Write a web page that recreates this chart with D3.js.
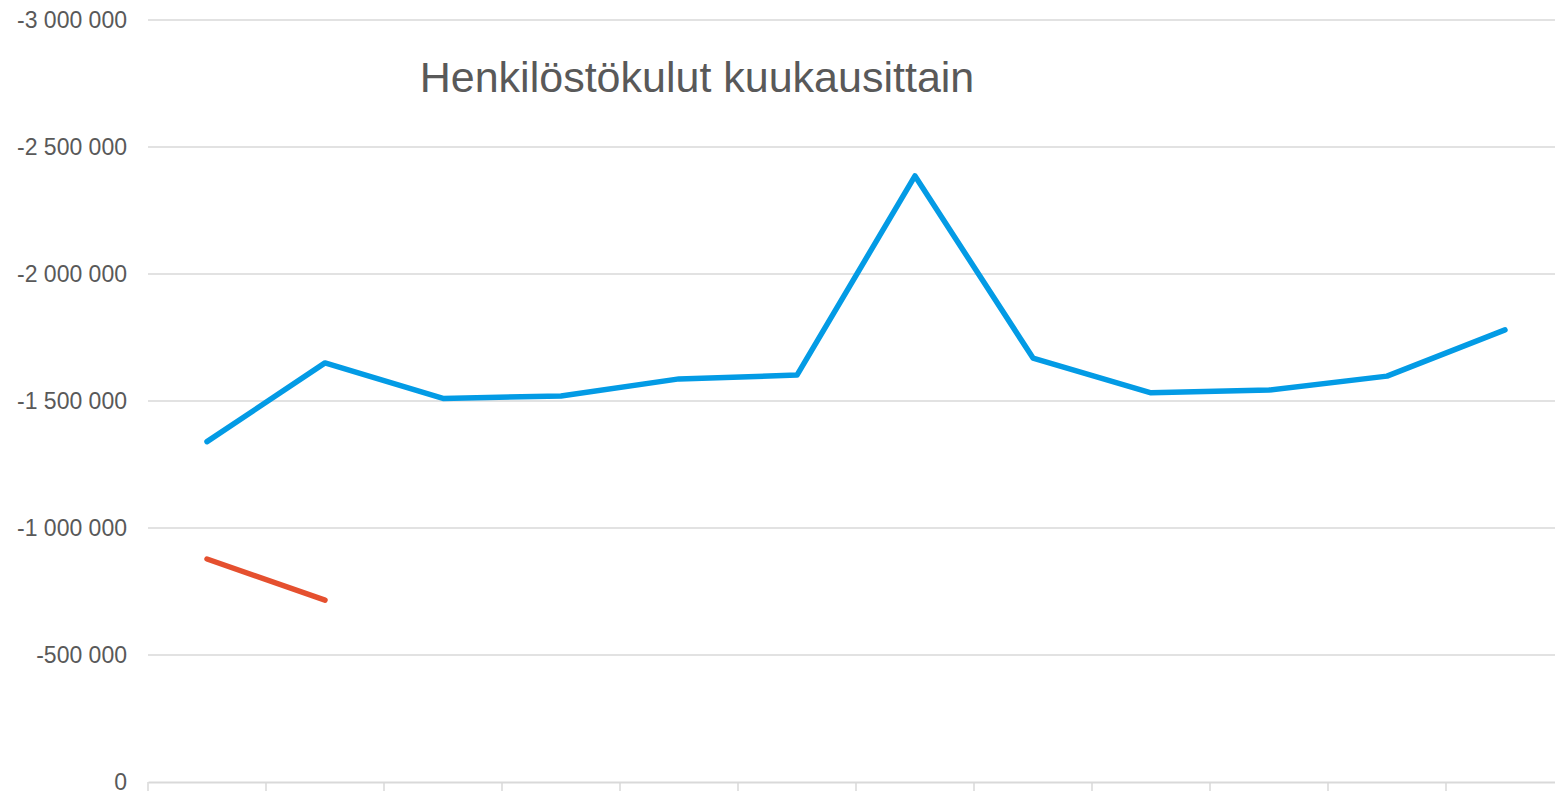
<!DOCTYPE html>
<html>
<head>
<meta charset="utf-8">
<script src="https://cdn.jsdelivr.net/npm/d3@7"></script>
<style>
  html, body { margin: 0; padding: 0; background: #fff; overflow: hidden; }
  svg { display: block; font-family: "Liberation Sans", Arial, sans-serif; }
</style>
</head>
<body>
<svg id="chart"></svg>
<script>
const months = ["tammi", "helmi", "maalis", "huhti", "touko", "kesä", "heinä", "elo", "syys", "loka", "marras", "joulu"];

// blue series: full year
const costsA = [-1340000, -1650000, -1510000, -1520000, -1587000, -1602000, -2386000, -1669000, -1532000, -1543000, -1598000, -1780000];
// red series: first two months only
const costsB = [-878000, -716000];

const yTicks = [0, -500000, -1000000, -1500000, -2000000, -2500000, -3000000];

const width = 1555;
const height = 791;
const margin = { top: 20, right: -9, bottom: 9, left: 148 };

const svg = d3.select("#chart")
  .attr("width", width)
  .attr("height", height);

const x = d3.scaleBand()
  .domain(months)
  .range([margin.left, width - margin.right]);

const y = d3.scaleLinear()
  .domain([0, -3000000])
  .range([height - margin.bottom, margin.top]);

const fmt = (v) => d3.format(",")(v).replace(/,/g, " ").replace("−", "-");

// gridlines
svg.append("g")
  .selectAll("line")
  .data(yTicks.filter((d) => d !== 0))
  .join("line")
  .attr("x1", margin.left)
  .attr("x2", width)
  .attr("y1", (d) => y(d))
  .attr("y2", (d) => y(d))
  .attr("stroke", "#d9d9d9")
  .attr("stroke-width", 1.5);

// y labels
svg.append("g")
  .selectAll("text")
  .data(yTicks)
  .join("text")
  .attr("x", 127)
  .attr("y", (d) => y(d))
  .attr("dy", "0.33em")
  .attr("text-anchor", "end")
  .attr("font-size", 23)
  .attr("fill", "#595959")
  .text((d) => fmt(d));

// x axis (month labels fall below the visible area, as in the original)
const xAxis = svg.append("g")
  .attr("transform", `translate(0,${y(0)})`)
  .call(d3.axisBottom(x).tickSize(0).tickPadding(18));

xAxis.select(".domain")
  .attr("stroke", "#d9d9d9")
  .attr("stroke-width", 2);

xAxis.selectAll("text")
  .attr("font-size", 20)
  .attr("fill", "#595959")
  .attr("font-family", "Liberation Sans, Arial, sans-serif");

// category separators
svg.append("g")
  .selectAll("line")
  .data(months)
  .join("line")
  .attr("x1", (d) => x(d))
  .attr("x2", (d) => x(d))
  .attr("y1", y(0))
  .attr("y2", y(0) + 10)
  .attr("stroke", "#d9d9d9")
  .attr("stroke-width", 1.5);

const line = d3.line()
  .x((d, i) => x(months[i]) + x.bandwidth() / 2)
  .y((d) => y(d));

svg.append("path")
  .datum(costsA)
  .attr("d", line)
  .attr("fill", "none")
  .attr("stroke", "#039be5")
  .attr("stroke-width", 5.5)
  .attr("stroke-linecap", "round")
  .attr("stroke-linejoin", "round");

svg.append("path")
  .datum(costsB)
  .attr("d", line)
  .attr("fill", "none")
  .attr("stroke", "#e5502f")
  .attr("stroke-width", 5.5)
  .attr("stroke-linecap", "round")
  .attr("stroke-linejoin", "round");

// title
svg.append("text")
  .attr("x", 697)
  .attr("y", 92)
  .attr("text-anchor", "middle")
  .attr("font-size", 43)
  .attr("fill", "#595959")
  .text("Henkilöstökulut kuukausittain");
</script>
</body>
</html>
